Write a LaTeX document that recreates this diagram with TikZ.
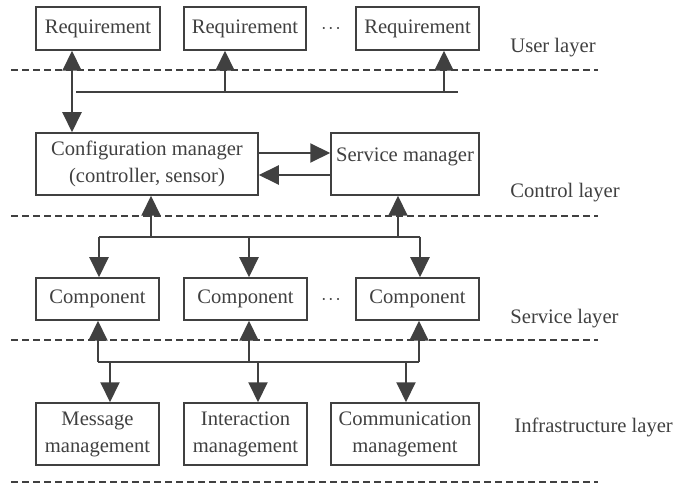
\documentclass[tikz,border=0pt]{standalone}
\usepackage{fontspec}
\setmainfont{Liberation Serif}
\usetikzlibrary{arrows.meta}
\definecolor{ink}{RGB}{64,64,64}
\tikzset{
  box/.style={draw=ink,line width=0.75pt,text=ink,inner sep=1pt,align=center,
    font=\fontsize{10.3}{13.5}\selectfont},
  tri/.tip={Triangle[width=9.5pt,length=10pt]},
  wire/.style={draw=ink,line width=1pt},
  layerline/.style={draw=ink,line width=1pt,dash pattern=on 3.5pt off 2pt},
  layertext/.style={text=ink,anchor=west,inner sep=0pt,font=\fontsize{10.3}{12}\selectfont},
  dotsnode/.style={text=ink,inner sep=0pt}
}
\newcommand{\moredots}{$\cdot\mkern-2.5mu\cdot\mkern-2.5mu\cdot$}

\begin{document}
\begin{tikzpicture}[x=0.5pt,y=-0.5pt]
  \useasboundingbox (0,0) rectangle (678,485);

  % layer borders
  \foreach \y in {70,216,340,482} {
    \draw[layerline] (11,\y) -- (598,\y);
  }

  % user layer
  \node[box,minimum width=62pt,minimum height=21.5pt] (req1) at (98,28.5) {Requirement};
  \node[box,minimum width=61pt,minimum height=21.5pt] (req2) at (245,28.5) {Requirement};
  \node[box,minimum width=61.5pt,minimum height=21.5pt] (req3) at (417.5,28.5) {Requirement};
  \node[dotsnode] (udots) at (331,29) {\moredots};
  \node[layertext] (ulayer) at (510,48) {User layer};

  % control layer
  \node[box,minimum width=111pt,minimum height=31pt] (cfg) at (147,164)
    {Configuration manager\\(controller, sensor)};
  \node[box,minimum width=74pt,minimum height=31pt,text depth=9.5pt] (svc) at (405,164)
    {Service manager};
  \node[layertext] (clayer) at (510,193) {Control layer};

  % service layer
  \node[box,minimum width=61.5pt,minimum height=21pt] (comp1) at (97.5,299) {Component};
  \node[box,minimum width=61.5pt,minimum height=21pt] (comp2) at (245.5,299) {Component};
  \node[box,minimum width=61.5pt,minimum height=21pt] (comp3) at (417.5,299) {Component};
  \node[dotsnode] (sdots) at (331,300) {\moredots};
  \node[layertext] (slayer) at (510,319) {Service layer};

  % infrastructure layer
  \node[box,minimum width=61.5pt,minimum height=31pt] (msg) at (97.5,434) {Message\\management};
  \node[box,minimum width=61.5pt,minimum height=31pt] (inter) at (245.5,434) {Interaction\\management};
  \node[box,minimum width=74pt,minimum height=31pt] (comm) at (405,434) {Communication\\management};
  \node[layertext] (ilayer) at (514,427) {Infrastructure layer};

  % user bus
  \coordinate (rc) at (72,0);
  \coordinate (ub0) at (76,92);
  \coordinate (ub2) at (225,92);
  \coordinate (ub3) at (444,92);
  \coordinate (ubE) at (458,92);
  \draw[wire,tri-tri] (rc |- req1.south) -- (rc |- cfg.north);
  \draw[wire] (ub0) -- (ubE);
  \draw[wire,-tri] (ub2) -- (ub2 |- req2.south);
  \draw[wire,-tri] (ub3) -- (ub3 |- req3.south);

  % manager to manager
  \coordinate (mu) at (0,153);
  \coordinate (ml) at (0,175);
  \draw[wire,-tri] (mu -| cfg.east) -- (mu -| svc.west);
  \draw[wire,-tri] (ml -| svc.west) -- (ml -| cfg.east);

  % control bus
  \coordinate (cb1) at (99,237);
  \coordinate (cb2) at (249,237);
  \coordinate (cb3) at (420,237);
  \coordinate (cbc) at (151,237);
  \coordinate (cbs) at (398,237);
  \draw[wire] (cb1) -- (cb3);
  \draw[wire,-tri] (cbc) -- (cbc |- cfg.south);
  \draw[wire,-tri] (cbs) -- (cbs |- svc.south);
  \draw[wire,-tri] (cb1) -- (cb1 |- comp1.north);
  \draw[wire,-tri] (cb2) -- (cb2 |- comp2.north);
  \draw[wire,-tri] (cb3) -- (cb3 |- comp3.north);

  % service bus
  \coordinate (sb1) at (98,362);
  \coordinate (sb2) at (249,362);
  \coordinate (sb3) at (419,362);
  \coordinate (sm1) at (110,362);
  \coordinate (sm2) at (258,362);
  \coordinate (sm3) at (406,362);
  \draw[wire] (sb1) -- (sb3);
  \draw[wire,-tri] (sb1) -- (sb1 |- comp1.south);
  \draw[wire,-tri] (sb2) -- (sb2 |- comp2.south);
  \draw[wire,-tri] (sb3) -- (sb3 |- comp3.south);
  \draw[wire,-tri] (sm1) -- (sm1 |- msg.north);
  \draw[wire,-tri] (sm2) -- (sm2 |- inter.north);
  \draw[wire,-tri] (sm3) -- (sm3 |- comm.north);
\end{tikzpicture}
\end{document}
